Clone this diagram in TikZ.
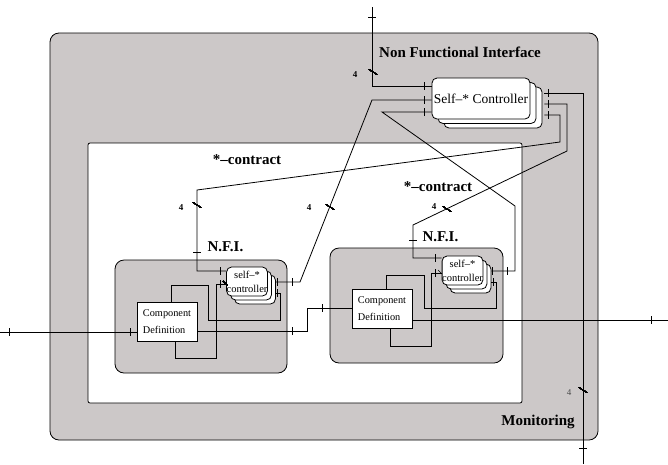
\documentclass[tikz,border=0pt]{standalone}
\usepackage{fontspec}
\setmainfont{Liberation Serif}
\usetikzlibrary{shadows}

\definecolor{boxgray}{RGB}{204,200,200}
\tikzset{
  wire/.style={line width=0.8pt},
  frame/.style={draw, line width=0.8pt},
  ctrlbox/.style={draw, fill=white, line width=0.8pt, rounded corners=5pt, inner sep=0pt},
  cdbox/.style={draw, fill=white, line width=0.8pt, inner sep=0pt, minimum width=60pt,
    minimum height=39pt, align=left, font=\fontsize{10.3}{17}\selectfont},
  biglabel/.style={font=\fontsize{15}{18}\selectfont\bfseries},
  buslabel/.style={font=\fontsize{9}{10}\selectfont\bfseries},
}
\newcommand{\vtick}[1]{\draw[wire] (#1) ++(0,-4) -- ++(0,8);}
\newcommand{\htick}[1]{\draw[wire] (#1) ++(-4,0) -- ++(8,0);}
\newcommand{\busmark}[1]{\draw[line width=0.6pt] (#1) ++(-4,-2.5) -- ++(8,5);}

\begin{document}
\begin{tikzpicture}[x=1pt, y=-1pt]
  \useasboundingbox (0,0) rectangle (668,464);
  \fill[white] (0,0) rectangle (668,464);

  \filldraw[frame, fill=boxgray, rounded corners=9pt] (50,33) rectangle (598,440);
  \node[biglabel] (nfi) at (460,52) {Non Functional Interface};
  \node[biglabel] (mon) at (538,422) {Monitoring};

  \filldraw[frame, fill=white, rounded corners=2pt] (88,143) rectangle (522,403);
  \node[biglabel] (ctr1) at (247,160) {*--contract};
  \node[biglabel] (ctr2) at (438,187) {*--contract};

  \filldraw[frame, fill=boxgray, rounded corners=9pt] (115,260) rectangle (287,373);
  \filldraw[frame, fill=boxgray, rounded corners=9pt] (330,248) rectangle (503,363);
  \node[biglabel, anchor=west] (nfi1) at (204,247) {N.F.I.};
  \node[biglabel, anchor=west] (nfi2) at (419,237) {N.F.I.};

  \node[ctrlbox, minimum width=98pt, minimum height=41pt,
    double copy shadow={shadow xshift=6pt, shadow yshift=-4.5pt},
    font=\fontsize{13.5}{16}\selectfont] (self) at (481,98.5) {Self--* Controller};
  \node[ctrlbox, minimum width=38pt, minimum height=29pt, align=center,
    double copy shadow={shadow xshift=4pt, shadow yshift=-4pt},
    font=\fontsize{10.5}{14}\selectfont] (lctrl) at (247,281.5) {self--*\\controller};
  \node[ctrlbox, minimum width=39pt, minimum height=29pt, align=center,
    double copy shadow={shadow xshift=4pt, shadow yshift=-4pt},
    font=\fontsize{10.5}{14}\selectfont] (rctrl) at (462.5,270.5) {self--*\\controller};

  \node[cdbox] (lcd) at (167,321.5) {Component\\Definition};
  \node[cdbox] (rcd) at (382,309) {Component\\Definition};

  \coordinate (top) at (372,7);
  \coordinate (bot) at (583,464);
  \coordinate (in) at (0,332);
  \coordinate (out) at (668,320);

  \draw[wire] (self.west |- 0,86) -| (top);
  \draw[wire] (self.west |- 0,100) -- (372,100) -- (300,282) -- ([xshift=8pt]lctrl.east |- 0,282);
  \draw[wire] (self.west |- 0,112) -- (382,112) -- (515,206) |- ([xshift=8pt]rctrl.east |- 0,271);
  \draw[wire] ([xshift=14pt]self.east |- 0,93) -| (bot);
  \draw[wire] ([xshift=14pt]self.east |- 0,104) -| (567,151) -- (413,225) |- (rctrl.west |- 0,258);
  \draw[wire] ([xshift=14pt]self.east |- 0,115) -| (560,142) -- (197,190) |- (lctrl.west |- 0,271);

  \draw[wire] (in) -- (lcd.west |- in);
  \draw[wire] (lcd.east |- 0,331) -- (307,331) |- (rcd.west |- 0,308);
  \draw[wire] (lcd.north -| 171,0) |- (208,285) |- (280,320) |- ([xshift=8pt]lctrl.east |- 0,293);
  \draw[wire] (lcd.south -| 175,0) |- (216,358) |- (lctrl.west |- 0,284);
  \draw[wire] (rcd.east |- out) -- (out);
  \draw[wire] (rcd.north -| 386,0) |- (424,275) |- (496,308) |- ([xshift=8pt]rctrl.east |- 0,282);
  \draw[wire] (rcd.south -| 390,0) |- (431,346) |- (rctrl.west |- 0,273);

  \foreach \p in {{424,86},{424,100},{424,112},{548,93},{548,104},{548,115},
      {9,332},{130,332},{292,331},{322,308},{651,320},{220,271},{220,284},
      {277,282},{292,282},{277,293},{435,258},{435,273},{492,271},{507,271},{493,282}}
    \vtick{\p}
  \foreach \p in {{372,17},{583,448},{197,252},{413,240}}
    \htick{\p}
  \foreach \p in {{373,72},{330,207},{447,209},{197,205},{583,390}}
    \busmark{\p}
  \draw[line width=0.6pt] (223,281) -- ++(4,4);
  \draw[line width=0.6pt] (438,270) -- ++(4,4);

  \node[buslabel] (b1) at (355,75) {4};
  \node[buslabel] (b2) at (309,208) {4};
  \node[buslabel] (b3) at (434,207) {4};
  \node[buslabel] (b4) at (181,208) {4};
  \node[font=\fontsize{9}{10}\selectfont, text=black!70] (b5) at (569,393) {4};
\end{tikzpicture}
\end{document}
